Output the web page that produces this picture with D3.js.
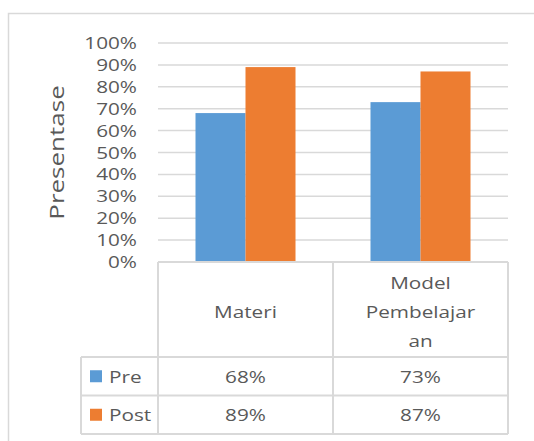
<!DOCTYPE html>
<html>
<head>
<meta charset="utf-8">
<script src="https://cdn.jsdelivr.net/npm/d3@7"></script>
<style>
  body { margin: 0; background: #fff; }
  text { font-family: "Open Sans", sans-serif; fill: #595959; }
</style>
</head>
<body>
<div id="chart"></div>
<script>
const categories = ["Materi", "Model Pembelajaran"];
const categoryLines = [["Materi"], ["Model", "Pembelajar", "an"]];
const seriesNames = ["Pre", "Post"];
const preValues = [0.68, 0.73];
const postValues = [0.89, 0.87];
const yTicks = [0, 0.1, 0.2, 0.3, 0.4, 0.5, 0.6, 0.7, 0.8, 0.9, 1];
const axisTitle = "Presentase";

const seriesValues = [preValues, postValues];
const colors = ["#5b9bd5", "#ed7d31"];
const width = 534, height = 441;
const fontSize = 17, sx = 1.22;
const gridColor = "#d9d9d9";

const svg = d3.select("#chart").append("svg")
    .attr("width", width)
    .attr("height", height);

// chart area border (cropped on right and bottom)
svg.append("path")
    .attr("d", "M8.5,445V13.5H540")
    .attr("fill", "none")
    .attr("stroke", gridColor)
    .attr("stroke-width", 1.5);

const x = d3.scaleBand().domain(categories).range([158, 508]);
const xs = d3.scaleBand().domain(seriesNames).range([0, x.bandwidth()]).paddingOuter(0.75);
const y = d3.scaleLinear().domain([0, 1]).range([262, 43]);
const pct = d3.format(".0%");

// horizontally stretched text helper
function label(g, tx, ty, str, anchor) {
    return g.append("text")
        .attr("transform", `translate(${tx},${ty}) scale(${sx},1)`)
        .attr("text-anchor", anchor || "middle")
        .attr("font-size", fontSize)
        .text(str);
}

// gridlines
svg.append("g").selectAll("line")
    .data(yTicks.slice(1))
    .join("line")
    .attr("x1", 158).attr("x2", 508)
    .attr("y1", d => y(d)).attr("y2", d => y(d))
    .attr("stroke", gridColor)
    .attr("stroke-width", 1.5);

// tick labels
const tickG = svg.append("g");
yTicks.forEach(t => label(tickG, 137, y(t) + 6, pct(t), "end"));

// axis title
svg.append("text")
    .attr("transform", `translate(64,${(y(0) + y(1)) / 2}) rotate(-90) scale(1.3,1)`)
    .attr("text-anchor", "middle")
    .attr("font-size", 20)
    .text(axisTitle);

// bars
svg.append("g").selectAll("g")
    .data(seriesNames)
    .join("g")
    .attr("fill", (d, i) => colors[i])
    .selectAll("rect")
    .data((s, si) => categories.map((c, ci) => ({ c, s, v: seriesValues[si][ci] })))
    .join("rect")
    .attr("x", d => x(d.c) + xs(d.s))
    .attr("width", xs.bandwidth())
    .attr("y", d => y(d.v))
    .attr("height", d => y(0) - y(d.v));

// data table
const headerBottom = 357, rowH = 38.5;
const tableLeft = 81;
const lines = svg.append("g").attr("stroke", gridColor).attr("stroke-width", 2);
lines.append("line").attr("x1", x.range()[0]).attr("x2", x.range()[1]).attr("y1", y(0)).attr("y2", y(0));
[0, 1, 2].forEach(r => {
    const yy = headerBottom + r * rowH;
    lines.append("line").attr("x1", tableLeft).attr("x2", x.range()[1]).attr("y1", yy).attr("y2", yy);
});
const tableBottom = headerBottom + seriesNames.length * rowH;
categories.concat([null]).forEach(c => {
    const xx = c === null ? x.range()[1] : x(c);
    lines.append("line").attr("x1", xx).attr("x2", xx).attr("y1", y(0)).attr("y2", tableBottom);
});
lines.append("line").attr("x1", tableLeft).attr("x2", tableLeft).attr("y1", headerBottom).attr("y2", tableBottom);

// header labels
const headG = svg.append("g");
categories.forEach((c, ci) => {
    const ls = categoryLines[ci];
    const cx = x(c) + x.bandwidth() / 2;
    ls.forEach((l, li) => label(headG, cx, 318 + (li - (ls.length - 1) / 2) * 29, l));
});

// rows
const rowG = svg.append("g");
seriesNames.forEach((s, si) => {
    const cy = headerBottom + si * rowH + rowH / 2;
    rowG.append("rect")
        .attr("x", 90).attr("y", cy - 6)
        .attr("width", 12).attr("height", 12)
        .attr("fill", colors[si]);
    label(rowG, 109, cy + 6.5, s, "start");
    categories.forEach((c, ci) => {
        label(rowG, x(c) + x.bandwidth() / 2, cy + 6.5, pct(seriesValues[si][ci]));
    });
});
</script>
</body>
</html>
